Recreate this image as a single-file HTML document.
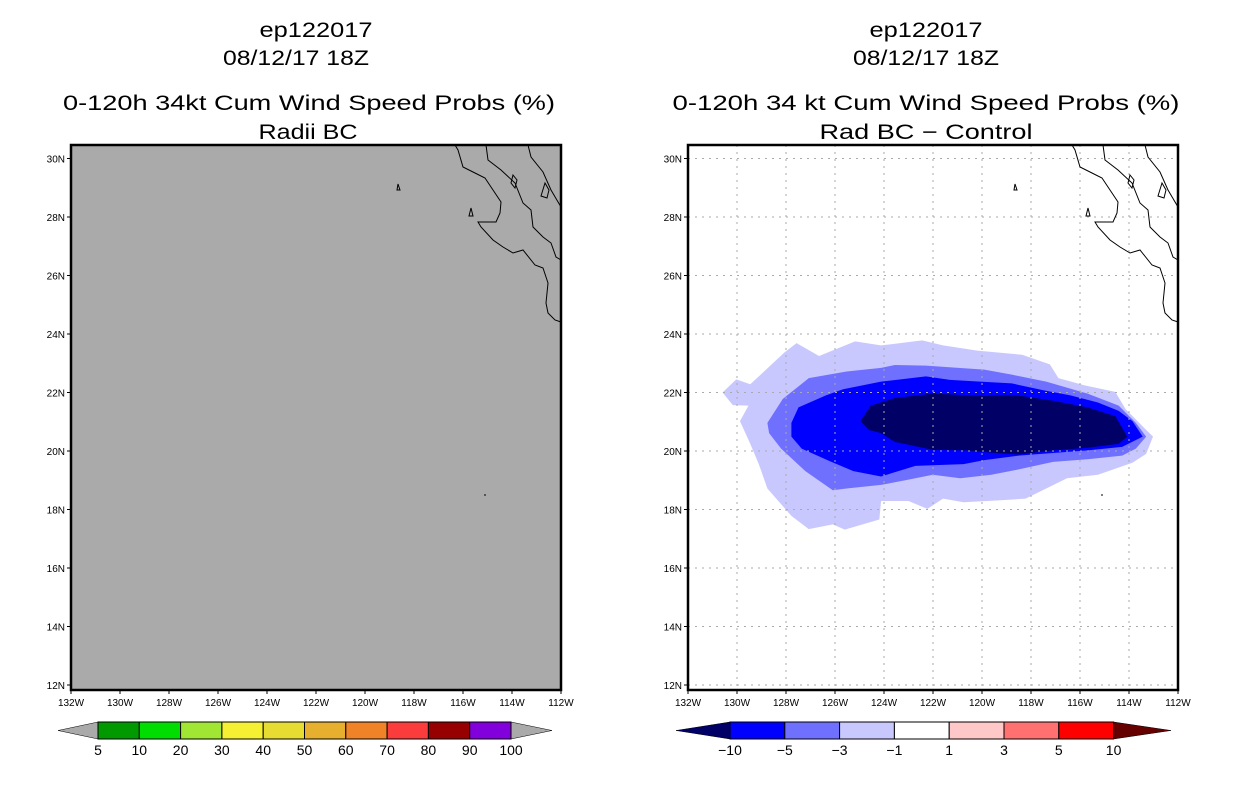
<!DOCTYPE html>
<html><head><meta charset="utf-8"><style>
body{margin:0;background:#fff;}
svg{display:block;font-family:"Liberation Sans",sans-serif;}
.t{font-size:21px;text-anchor:middle;fill:#000;}
.ax{font-size:10px;fill:#000;}
.cb{font-size:14px;text-anchor:middle;fill:#000;}
</style></head><body>
<svg id="s" width="1236" height="800" viewBox="0 0 1236 800">
<g>
<text class="t" x="316" y="37" textLength="113" lengthAdjust="spacingAndGlyphs">ep122017</text>
<text class="t" x="296" y="65" textLength="146" lengthAdjust="spacingAndGlyphs">08/12/17 18Z</text>
<text class="t" x="309" y="110" textLength="492" lengthAdjust="spacingAndGlyphs">0-120h 34kt Cum Wind Speed Probs (%)</text>
<text class="t" x="308" y="139" textLength="99" lengthAdjust="spacingAndGlyphs">Radii BC</text>
</g>
<g>
<text class="t" x="926" y="37" textLength="113" lengthAdjust="spacingAndGlyphs">ep122017</text>
<text class="t" x="926" y="65" textLength="146" lengthAdjust="spacingAndGlyphs">08/12/17 18Z</text>
<text class="t" x="926" y="110" textLength="507" lengthAdjust="spacingAndGlyphs">0-120h 34 kt Cum Wind Speed Probs (%)</text>
<text class="t" x="926" y="139" textLength="213" lengthAdjust="spacingAndGlyphs">Rad BC − Control</text>
</g>
<g id="L"></g>
<g id="R"></g>
<g id="CB"></g>
</svg>
<script>
const latTicks=[12,14,16,18,20,22,24,26,28,30];
const lonTicks=[132,130,128,126,124,122,120,118,116,114,112];
const levelsL=["5","10","20","30","40","50","60","70","80","90","100"];
const colorsL=["#009900","#00dd00","#a0e632","#f5f032","#e6dc32","#e6af2d","#f08228","#fa3c3c","#960000","#8200dc"];
const levelsR=["−10","−5","−3","−1","1","3","5","10"];
const colorsR=["#000066","#0000ff","#7070ff","#c8c8ff","#ffffff","#ffc8c8","#ff7070","#ff0000","#660000"];
// contour polygons: [lonW, latN]
const c1=[[130.59,22.0],[130.03,22.45],[129.46,22.28],[128.06,23.37],[127.57,23.69],[126.65,23.25],[125.18,23.75],[124.12,23.61],[122.44,23.78],[121.59,23.61],[120.19,23.43],[118.36,23.29],[117.23,22.96],[116.88,22.49],[115.83,22.25],[114.56,22.02],[114.14,21.43],[113.44,20.84],[113.02,20.49],[113.3,19.9],[113.86,19.6],[115.27,19.19],[116.53,19.07],[117.38,18.72],[118.22,18.37],[119.34,18.31],[120.75,18.25],[121.59,18.37],[122.23,18.02],[123.0,18.29],[124.12,18.29],[124.19,17.66],[125.6,17.31],[126.09,17.49],[127.07,17.33],[127.78,17.78],[128.76,18.72],[129.11,19.55],[129.46,20.25],[129.88,21.02],[129.53,21.55],[130.17,21.57]];
const c2=[[128.76,20.96],[128.13,21.78],[127.07,22.49],[125.53,22.72],[124.12,22.84],[123.56,22.94],[122.29,22.92],[119.91,22.78],[118.78,22.61],[117.38,22.37],[115.69,21.96],[114.42,21.55],[113.72,20.96],[113.3,20.49],[113.72,20.08],[114.28,19.84],[115.69,19.72],[117.1,19.63],[118.5,19.37],[119.62,19.19],[120.89,19.07],[122.01,19.19],[123.0,19.02],[124.12,18.84],[125.53,18.72],[126.09,18.66],[127.21,19.31],[128.2,20.08],[128.69,20.61]];
const c3=[[127.78,20.96],[127.49,21.49],[126.37,21.9],[125.67,22.11],[124.12,22.37],[122.29,22.55],[121.31,22.43],[118.78,22.31],[117.52,22.08],[116.39,21.9],[115.27,21.66],[114.42,21.37],[113.86,21.02],[113.44,20.49],[114.28,20.14],[115.69,20.02],[117.1,19.93],[118.5,19.84],[119.91,19.69],[120.75,19.55],[122.72,19.49],[124.12,19.13],[125.25,19.31],[126.23,19.66],[127.36,20.08],[127.78,20.49]];
const c4=[[124.96,21.02],[124.54,21.55],[123.56,21.81],[122.01,21.96],[119.91,21.88],[119.06,21.92],[118.36,21.88],[117.1,21.72],[115.69,21.49],[114.56,21.19],[114.07,20.49],[114.42,20.25],[115.69,20.11],[117.1,20.02],[118.5,19.88],[119.91,19.96],[120.61,20.02],[122.01,20.04],[123.56,20.31],[124.12,20.61],[124.61,20.72]];
const contours=[c1,c2,c3,c4];
const contourColors=["#c8c8ff","#7070ff","#0000ff","#000066"];

const NS="http://www.w3.org/2000/svg";
function mk(tag,at,parent){const e=document.createElementNS(NS,tag);for(const k in at)e.setAttribute(k,at[k]);parent.appendChild(e);return e;}
const yTop=145,yBot=690;
function yS(lat){return 451+(20-lat)*29.25;}
function coast(){return "M1072,145 L1075,150 L1080,167 L1092,173 L1102,178 L1110,190 L1118,202 L1117,213 L1113,222 L1095,222 L1098,227 L1110,240 L1120,247 L1130,253 L1140,250 L1152,265 L1160,268 L1165,283 L1163,303 L1165,313 L1172,320 L1178,322 M1103,145 L1105,160 L1118,170 L1132,183 L1140,203 L1148,210 L1150,227 L1160,237 L1168,243 L1173,257 L1178,260 M1145,145 L1148,157 L1160,172 L1168,190 L1178,207 M1130,175 L1134,180 L1132,188 L1128,183 Z M1162,183 L1166,190 L1164,198 L1158,196 Z M1088,208 L1090,216 L1086,216 Z M1015,184 L1017,190 L1014,190 Z M1101,495 L1103,495";}
function panel(g,x0,isR){
  const xS=lon=>x0+(132-lon)*24.5;
  if(!isR){const r=mk('rect',{x:x0,y:yTop,width:490,height:yBot-yTop,fill:'#aaaaaa'},g);}
  else{
    contours.forEach((c,i)=>{const p=mk('polygon',{points:c.map(d=>xS(d[0])+','+yS(d[1])).join(' '),fill:contourColors[i]},g);
      
      });
    lonTicks.slice(1,-1).forEach(l=>mk('line',{x1:xS(l),x2:xS(l),y1:yTop,y2:yBot,stroke:'#aaa','stroke-dasharray':'2,5'},g));
    latTicks.forEach(l=>mk('line',{x1:x0,x2:x0+490,y1:yS(l),y2:yS(l),stroke:'#aaa','stroke-dasharray':'2,5'},g));
  }
  const cp=mk('path',{d:coast(),fill:'none',stroke:'#000','stroke-width':1,transform:`translate(${x0-688},0)`},g);
  
  mk('rect',{x:x0,y:yTop,width:490,height:yBot-yTop,fill:'none',stroke:'#000','stroke-width':2.5},g);
  latTicks.forEach(l=>{mk('line',{x1:x0-4,x2:x0,y1:yS(l),y2:yS(l),stroke:'#000'},g);
    const t=mk('text',{class:'ax',x:x0-6,y:yS(l)+4,'text-anchor':'end'},g);t.textContent=l+'N';
    });
  lonTicks.forEach(l=>{mk('line',{x1:xS(l),x2:xS(l),y1:yBot,y2:yBot+4,stroke:'#000'},g);
    const t=mk('text',{class:'ax',x:xS(l),y:yBot+16,'text-anchor':'middle'},g);t.textContent=l+'W';
    });
}
panel(document.getElementById('L'),71,false);
panel(document.getElementById('R'),688,true);
const cb=document.getElementById('CB');
const y1=722,y2=739,ym=730.5;
(function(){const x0=98,w=41.3;
 mk('polygon',{points:`58,${ym} ${x0},${y1} ${x0},${y2}`,fill:'#aaa',stroke:'#000','stroke-width':0.5},cb);
 mk('polygon',{points:`552,${ym} ${x0+10*w},${y1} ${x0+10*w},${y2}`,fill:'#aaa',stroke:'#000','stroke-width':0.5},cb);
 colorsL.forEach((c,i)=>{const r=mk('rect',{x:x0+i*w,y:y1,width:w,height:y2-y1,fill:c,stroke:'#000'},cb);
   });
 levelsL.forEach((l,i)=>{const t=mk('text',{class:'cb',x:x0+i*w,y:755},cb);t.textContent=l;
   });
})();
(function(){const x0=730,w=54.8;
 mk('polygon',{points:`676,${ym} ${x0},${y1} ${x0},${y2}`,fill:colorsR[0],stroke:'#000','stroke-width':0.5},cb);
 mk('polygon',{points:`1171,${ym} ${x0+7*w},${y1} ${x0+7*w},${y2}`,fill:colorsR[8],stroke:'#000','stroke-width':0.5},cb);
 colorsR.slice(1,8).forEach((c,i)=>{const r=mk('rect',{x:x0+i*w,y:y1,width:w,height:y2-y1,fill:c,stroke:'#000'},cb);
   });
 levelsR.forEach((l,i)=>{const t=mk('text',{class:'cb',x:x0+i*w,y:755},cb);t.textContent=l;
   });
})();
</script>
</body></html>
